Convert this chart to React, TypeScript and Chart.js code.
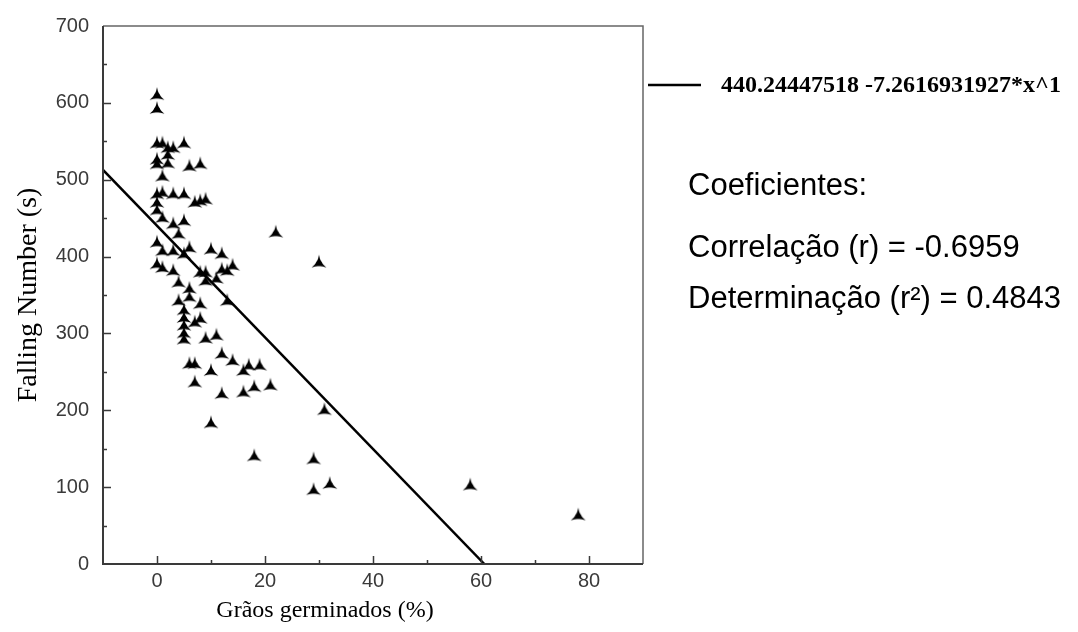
import React, { useEffect, useRef } from 'react';
import { Chart, registerables } from 'chart.js';

Chart.register(...registerables);

// Grãos germinados (%)
const germinated = [
  0, 0,
  0, 1, 5, 2, 3, 2, 2, 0, 0, 1, 6, 8,
  0, 1, 3, 5, 7, 8, 9, 0, 0,
  1, 5, 3, 4, 22,
  0, 1, 3, 5, 6, 10, 12,
  0, 1, 3, 8, 9, 12, 14, 13, 9, 11, 4,
  6, 6, 4, 8, 13,
  5, 5, 5, 5, 5, 7, 8,
  9, 11,
  12, 14,
  6, 7, 10, 16, 17, 19,
  7, 12, 16, 18, 21,
  10, 18, 29, 29, 32, 31, 30, 58, 78,
];
// Falling Number (s)
const fallingNumber = [
  610, 592,
  547, 547, 547, 541, 541, 532, 521, 526, 520, 504, 517, 520,
  481, 483, 481, 481, 470, 472, 474, 470, 460,
  450, 446, 442, 429, 431,
  418, 407, 407, 403, 411, 409, 403,
  390, 385, 381, 379, 379, 383, 388, 381, 368, 371, 366,
  358, 347, 342, 338, 342,
  330, 320, 310, 300, 292, 314, 319,
  293, 297,
  273, 264,
  260, 260, 251, 251, 258, 258,
  236, 221, 223, 230, 232,
  183, 140, 136, 96, 104, 200, 392, 102, 63,
];

// Fitted line end points: 440.24447518 - 7.2616931927*x
const fitX = [-10, 60.62];
const fitY = [512.86, 0];

const xTickValues = [0, 20, 40, 60, 80];
const yTickValues = [0, 100, 200, 300, 400, 500, 600, 700];
const xMinorStep = 10;
const yMinorStep = 50;

const xTitle = 'Grãos germinados (%)';
const yTitle = 'Falling Number (s)';
const legendLabel = '440.24447518 -7.2616931927*x^1';
const coefLines = ['Coeficientes:', 'Correlação (r) = -0.6959', 'Determinação (r²) = 0.4843'];

function makeMarker(): HTMLCanvasElement {
  const c = document.createElement('canvas');
  c.width = 20;
  c.height = 20;
  const g = c.getContext('2d')!;
  const cx = 10, cy = 10.5, R = 8.6, r = 1.3;
  const ang = [-90, 30, 150].map((a) => (a * Math.PI) / 180);
  const tips = ang.map((a) => [cx + R * Math.cos(a), cy + R * Math.sin(a)]);
  const mids = [-30, 90, 210].map((a) => {
    const t = (a * Math.PI) / 180;
    return [cx + r * Math.cos(t), cy + r * Math.sin(t)];
  });
  g.fillStyle = '#000';
  g.beginPath();
  g.moveTo(tips[0][0], tips[0][1]);
  g.quadraticCurveTo(mids[0][0], mids[0][1], tips[1][0], tips[1][1]);
  g.quadraticCurveTo(mids[1][0], mids[1][1], tips[2][0], tips[2][1]);
  g.quadraticCurveTo(mids[2][0], mids[2][1], tips[0][0], tips[0][1]);
  g.closePath();
  g.fill();
  g.beginPath();
  g.arc(cx, cy, 2.8, 0, Math.PI * 2);
  g.fill();
  return c;
}

const framePlugin = {
  id: 'frameTicksText',
  afterDraw(chart: any) {
    const { ctx, chartArea } = chart;
    const { left, right, top, bottom } = chartArea;
    const xs = chart.scales.x;
    const ys = chart.scales.y;
    ctx.save();
    // top and right frame
    ctx.strokeStyle = '#666';
    ctx.lineWidth = 1.5;
    ctx.beginPath();
    ctx.moveTo(left, top);
    ctx.lineTo(right, top);
    ctx.lineTo(right, bottom);
    ctx.stroke();
    // left and bottom axes
    ctx.strokeStyle = '#3a3a3a';
    ctx.lineWidth = 2;
    ctx.beginPath();
    ctx.moveTo(left, top);
    ctx.lineTo(left, bottom);
    ctx.lineTo(right, bottom);
    ctx.stroke();
    // inward ticks
    ctx.lineWidth = 1.5;
    ctx.beginPath();
    for (let v = yTickValues[0]; v < yTickValues[yTickValues.length - 1]; v += yMinorStep) {
      if (v === 0) continue;
      const py = Math.round(ys.getPixelForValue(v)) + 0.5;
      const len = yTickValues.includes(v) ? 8 : 4;
      ctx.moveTo(left, py);
      ctx.lineTo(left + len, py);
    }
    for (let v = xTickValues[0]; v <= xTickValues[xTickValues.length - 1]; v += xMinorStep) {
      const px = Math.round(xs.getPixelForValue(v)) + 0.5;
      const len = xTickValues.includes(v) ? 8 : 4;
      ctx.moveTo(px, bottom);
      ctx.lineTo(px, bottom - len);
    }
    ctx.stroke();

    // x axis title
    ctx.fillStyle = '#000';
    ctx.textBaseline = 'middle';
    ctx.textAlign = 'center';
    ctx.font = '24px "Liberation Serif", "Times New Roman", serif';
    ctx.fillText(xTitle, 325, 611);

    // legend
    ctx.strokeStyle = '#000';
    ctx.lineWidth = 2.5;
    ctx.beginPath();
    ctx.moveTo(648, 85);
    ctx.lineTo(701, 85);
    ctx.stroke();
    ctx.textAlign = 'left';
    ctx.font = 'bold 24px "Liberation Serif", "Times New Roman", serif';
    ctx.fillText(legendLabel, 721, 86);

    // coefficients
    ctx.font = '31px "Liberation Sans", Arial, sans-serif';
    const ysText = [186, 248, 299];
    coefLines.forEach((t, i) => ctx.fillText(t, 688, ysText[i]));
    ctx.restore();
  },
};

export default function App() {
  const ref = useRef<HTMLCanvasElement | null>(null);
  useEffect(() => {
    if (!ref.current) return;
    const marker = makeMarker();
    const points = germinated.map((x, i) => ({ x, y: fallingNumber[i] }));
    const fit = fitX.map((x, i) => ({ x, y: fitY[i] }));
    const tickFont = { family: '"Liberation Sans", Arial, sans-serif', size: 20 };
    const titleFont = { family: '"Liberation Serif", "Times New Roman", serif', size: 28 };
    const chart = new Chart(ref.current, {
      type: 'scatter',
      data: {
        datasets: [
          {
            label: 'dados',
            data: points,
            pointStyle: marker as any,
            pointRadius: 8,
            showLine: false,
          },
          {
            label: legendLabel,
            data: fit,
            showLine: true,
            borderColor: '#000',
            borderWidth: 2.5,
            pointRadius: 0,
            fill: false,
          } as any,
        ],
      },
      options: {
        animation: false,
        responsive: true,
        maintainAspectRatio: false,
        events: [],
        layout: { padding: { left: 0, top: 24, right: 435, bottom: 0 } },
        plugins: { legend: { display: false }, tooltip: { enabled: false } },
        scales: {
          x: {
            type: 'linear',
            min: -10,
            max: 90,
            grid: { display: false, drawTicks: false },
            border: { display: false },
            afterBuildTicks: (axis: any) => {
              axis.ticks = xTickValues.map((value) => ({ value }));
            },
            afterFit: (axis: any) => {
              axis.height = 68;
            },
            ticks: { font: tickFont, color: '#3a3a3a', padding: 5, maxRotation: 0, autoSkip: false },
            title: { display: false },
          },
          y: {
            type: 'linear',
            min: 0,
            max: 700,
            grid: { display: false, drawTicks: false },
            border: { display: false },
            afterBuildTicks: (axis: any) => {
              axis.ticks = yTickValues.map((value) => ({ value }));
            },
            afterFit: (axis: any) => {
              axis.width = 103;
            },
            ticks: { font: tickFont, color: '#3a3a3a', padding: 14, autoSkip: false },
            title: {
              display: true,
              text: yTitle,
              font: titleFont,
              color: '#000',
              padding: { top: 12, bottom: 0 },
            },
          },
        },
      },
      plugins: [framePlugin],
    });
    return () => chart.destroy();
  }, []);
  return (
    <div style={{ position: 'absolute', left: 0, top: 0, width: 1078, height: 632, background: '#fff' }}>
      <canvas ref={ref} />
    </div>
  );
}
